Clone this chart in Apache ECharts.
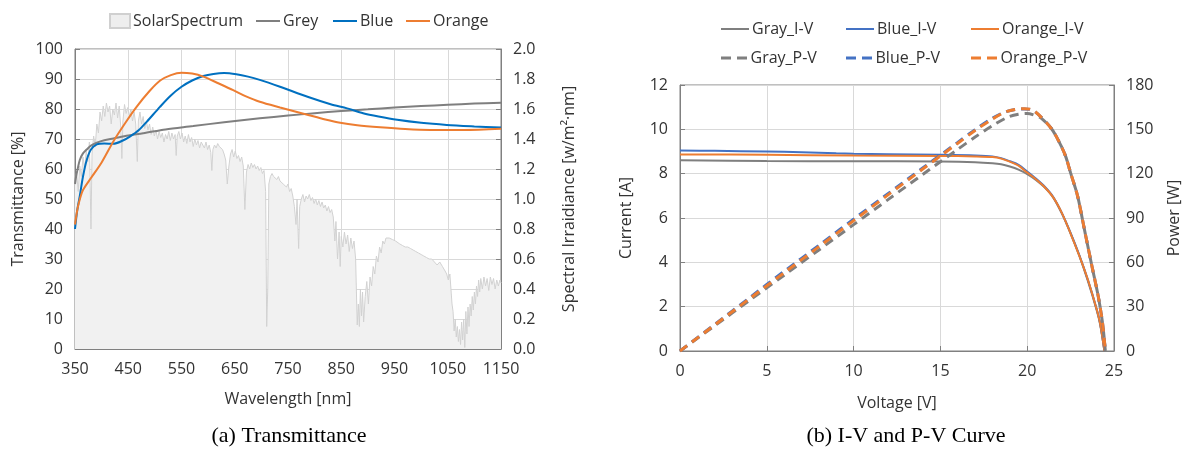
<!DOCTYPE html>
<html>
<head>
<meta charset="utf-8">
<script src="https://cdn.jsdelivr.net/npm/echarts@6/dist/echarts.min.js"></script>
<style>
  html, body { margin: 0; padding: 0; background: #fff; }
  #main { width: 1200px; height: 451px; }
</style>
</head>
<body>
<div id="main"></div>
<script>
// (a) transmittance, [wavelength nm, %]
let greyT = [[350,55],[352,57.5],[355,60],[359,63],[365,65.2],[372,66.5],[380,67.8],[391,68.8],[405,69.6],[422,70.2],
  [450,71.2],[478,71.9],[520,73.2],[572,74.3],[630,75.6],[697,76.9],[750,77.8],[800,78.6],[850,79.3],[900,79.9],
  [950,80.5],[1000,81],[1050,81.4],[1100,81.8],[1150,82.1]];
let blueT = [[350,40],[354,46],[359,51],[365,57.5],[372,63],[380,66.5],[391,68.2],[405,68.5],[422,68.4],[440,69.5],
  [453,70.8],[470,73],[485,75.8],[510,80.8],[530,84.5],[550,87.4],[570,89.5],[591,91],[610,91.7],[630,92],
  [653,91.6],[675,90.8],[697,89.7],[735,87.4],[788,84],[830,81.6],[861,80.2],[891,78.6],[920,77.5],[955,76.4],
  [1000,75.4],[1048,74.7],[1100,74.2],[1150,73.8]];
let orangeT = [[350,41.5],[355,47],[360,50.5],[365,53],[380,57],[400,62.2],[422,69.2],[445,75.5],[466,80.8],[490,86],
  [510,89.5],[530,91.3],[550,92.1],[570,91.8],[591,90.8],[620,88.5],[647,86.3],[670,84.3],[697,82.4],[735,80.5],
  [788,78],[820,76.5],[848,75.4],[880,74.6],[923,73.9],[970,73.3],[1017,73],[1080,73],[1150,73.4]];

// solar spectrum, [wavelength nm, W/m2/nm]
let solar = [[350,1.10],[353,1.18],[356,1.05],[359,1.22],[362,1.15],[365,1.28],[368,1.20],[371,1.32],[374,1.25],[377,1.38],
  [380,0.80],[382,1.30],[385,1.42],[388,1.35],[391,1.50],[394,1.44],[397,1.58],[400,1.52],[403,1.62],[406,1.55],
  [409,1.64],[412,1.58],[415,1.62],[418,1.50],[421,1.60],[424,1.56],[427,1.64],[430,1.54],[433,1.62],[436,1.48],
  [438,1.27],[440,1.52],[443,1.63],[446,1.57],[449,1.61],[452,1.55],[455,1.60],[458,1.52],[461,1.58],[464,1.50],
  [467,1.25],[469,1.52],[472,1.58],[475,1.50],[478,1.55],[481,1.47],[484,1.52],[487,1.46],[490,1.50],[493,1.43],
  [496,1.48],[499,1.42],[502,1.46],[505,1.40],[508,1.45],[511,1.41],[514,1.44],[517,1.38],[520,1.43],[523,1.40],
  [526,1.45],[529,1.39],[532,1.44],[535,1.40],[538,1.43],[540,1.29],[542,1.42],[545,1.45],[548,1.40],[551,1.44],
  [554,1.38],[557,1.42],[560,1.37],[563,1.43],[566,1.38],[569,1.41],[572,1.35],[575,1.40],[578,1.36],[581,1.39],
  [584,1.34],[587,1.38],[590,1.36],[593,1.34],[596,1.38],[599,1.33],[602,1.36],[605,1.31],[607,1.19],[609,1.33],
  [612,1.36],[615,1.34],[618,1.37],[621,1.35],[624,1.36],[627,1.33],[630,1.30],[633,1.26],[636,1.10],[639,1.22],
  [642,1.30],[645,1.33],[648,1.28],[651,1.32],[654,1.27],[657,1.29],[660,1.25],[663,1.28],[666,1.22],[669,0.93],
  [672,1.18],[675,1.23],[678,1.20],[681,1.24],[684,1.21],[687,1.23],[690,1.20],[693,1.22],[696,1.19],[699,1.21],
  [702,1.17],[705,1.19],[708,1.05],[710,0.15],[712,0.40],[714,1.10],[717,1.15],[720,1.17],[723,1.15],[726,1.16],
  [729,1.13],[732,1.15],[735,1.12],[738,1.13],[741,1.10],[744,1.11],[747,1.08],[750,1.10],[753,1.05],[756,1.07],
  [759,1.02],[762,0.95],[765,0.83],[767,1.00],[770,0.67],[772,0.95],[775,1.00],[778,1.03],[781,0.98],[784,1.02],
  [787,1.00],[790,1.03],[793,0.99],[796,1.01],[799,0.97],[802,1.00],[805,0.96],[808,0.99],[811,0.95],[814,0.98],
  [817,0.94],[820,0.96],[823,0.92],[826,0.95],[829,0.91],[832,0.93],[835,0.88],[838,0.72],[840,0.85],[843,0.60],
  [846,0.78],[848,0.55],[850,0.75],[853,0.68],[856,0.78],[859,0.70],[862,0.76],[865,0.65],[868,0.74],[871,0.67],
  [874,0.72],[877,0.60],[880,0.16],[882,0.30],[884,0.15],[886,0.40],[888,0.22],[890,0.38],[892,0.18],[895,0.35],
  [898,0.45],[901,0.30],[904,0.48],[907,0.42],[910,0.55],[913,0.50],[916,0.62],[919,0.58],[922,0.68],[925,0.64],
  [928,0.72],[931,0.70],[934,0.74],[937,0.75],[940,0.74],[943,0.73],[946,0.73],[949,0.72],[952,0.72],[955,0.71],
  [960,0.70],[965,0.69],[970,0.68],[975,0.68],[980,0.67],[985,0.66],[990,0.65],[995,0.64],[1000,0.63],[1005,0.62],
  [1010,0.61],[1015,0.60],[1020,0.60],[1025,0.58],[1030,0.56],[1035,0.58],[1040,0.55],[1045,0.52],[1048,0.50],[1051,0.46],
  [1054,0.50],[1056,0.40],[1058,0.30],[1060,0.25],[1062,0.12],[1064,0.20],[1066,0.08],[1068,0.15],[1070,0.05],[1072,0.13],
  [1074,0.03],[1076,0.18],[1078,0.06],[1080,0.20],[1082,0.01],[1084,0.25],[1086,0.10],[1088,0.28],[1090,0.15],[1092,0.30],
  [1094,0.22],[1096,0.35],[1098,0.26],[1100,0.38],[1102,0.30],[1104,0.42],[1106,0.35],[1108,0.46],[1110,0.38],[1112,0.47],
  [1115,0.40],[1118,0.48],[1121,0.42],[1124,0.47],[1127,0.39],[1130,0.48],[1133,0.43],[1136,0.47],[1139,0.40],[1142,0.46],
  [1145,0.42],[1148,0.46],[1150,0.44]];

// (b) I-V curves, [voltage V, current A]
let grayIV = [[0,8.6],[5,8.57],[10,8.56],[15,8.55],[17,8.52],[18,8.47],[18.5,8.42],[19,8.32],[19.5,8.18],[20,7.98],
  [20.5,7.72],[21,7.38],[21.5,6.92],[22,6.2],[22.5,5.3],[23,4.3],[23.5,3.15],[24,1.85],[24.2,1.2],[24.45,0]];
let blueIV = [[0,9.05],[2,9.03],[5,9.0],[7,8.97],[9,8.92],[10,8.9],[12,8.88],[15,8.85],[17,8.82],[18,8.78],
  [18.5,8.7],[19,8.56],[19.5,8.4],[20,8.1],[20.5,7.78],[21,7.42],[21.5,6.95],[22,6.22],[22.5,5.33],[23,4.33],
  [23.5,3.2],[24,1.9],[24.2,1.25],[24.45,0]];
let orangeIV = [[0,8.87],[5,8.85],[10,8.82],[15,8.8],[17,8.78],[18,8.75],[18.5,8.68],[19,8.54],[19.5,8.36],[20,8.05],
  [20.5,7.75],[21,7.4],[21.5,6.93],[22,6.22],[22.5,5.3],[23,4.3],[23.5,3.2],[24,1.88],[24.2,1.24],[24.45,0]];

// (b) P-V curves, [voltage V, power W]
let grayPV = [[0,0],[2,17.1],[4,34.2],[6,51.3],[8,68.4],[10,85.5],[12,102.6],[14,119.6],[16,136.5],[17,144.8],
  [18,152.5],[18.9,158.3],[19.5,160.2],[20,160.7],[20.4,159.6],[20.8,157.6],[21.4,150.4],[21.8,142.4],[22.2,132.2],
  [22.5,120.5],[22.9,105],[23.3,82],[23.7,59],[24.1,36.5],[24.35,18],[24.5,0]];
let bluePV = [[0,0],[2,18],[4,36],[6,53.9],[8,71.5],[10,89.2],[12,106.6],[14,124],[16,141.2],[17,149.8],
  [18,157.5],[18.7,161.6],[19.3,163.4],[19.85,163.8],[20.3,163],[20.8,158.3],[21.4,150.4],[21.8,142.4],[22.2,132.2],
  [22.5,120.5],[22.9,105],[23.3,82],[23.7,59],[24.1,36.5],[24.35,18],[24.5,0]];
let orangePV = [[0,0],[2,17.7],[4,35.4],[6,53],[8,70.6],[10,88.2],[12,105.8],[14,123.3],[16,140.6],[17,149.2],
  [18,157],[18.7,161.5],[19.3,163.4],[19.85,164],[20.3,163.2],[20.8,158.3],[21.4,150.4],[21.8,142.4],[22.2,132.2],
  [22.5,120.5],[22.9,105],[23.3,82],[23.7,59],[24.1,36.5],[24.35,18],[24.5,0]];

var FONT = 'Open Sans';
var TXT = '#333';
var GRIDC = '#d9d9d9';
var AXC = '#808080';
var DASH_ICON = 'path://M0,0H10V3H0Z M16,0H26V3H16Z';

function valAxis(o) {
  return Object.assign({
    type: 'value',
    nameLocation: 'middle',
    nameTextStyle: { fontFamily: FONT, fontSize: 16, color: TXT },
    axisLine: { show: true, lineStyle: { color: AXC } },
    axisTick: { show: true, inside: true, length: 5, lineStyle: { color: AXC } },
    axisLabel: { fontFamily: FONT, fontSize: 16, color: TXT, margin: 12 },
    splitLine: { show: true, lineStyle: { color: GRIDC } }
  }, o);
}

// one legend per entry so each sits where the reference has it
function leg(name, x, y, icon, w, h) {
  return {
    left: x, top: y, icon: icon, itemWidth: w, itemHeight: h,
    textStyle: { fontFamily: FONT, fontSize: 16, color: TXT, padding: [0, 0, 0, -2] },
    data: [name]
  };
}

var myChart = echarts.init(document.getElementById('main'));
var option = {
  animation: false,
  textStyle: { fontFamily: FONT },
  grid: [
    { left: 75, right: 699, top: 49, bottom: 102, show: true, borderColor: AXC, borderWidth: 1 },
    { left: 680, right: 86, top: 85, bottom: 100, show: true, borderColor: AXC, borderWidth: 1 }
  ],
  legend: [
    leg('SolarSpectrum', 104, 8, 'rect', 20, 14),
    leg('Grey', 251, 8, 'rect', 24, 2),
    leg('Blue', 328, 8, 'rect', 24, 2),
    leg('Orange', 401, 8, 'rect', 24, 2),
    leg('Gray_I-V', 716, 16, 'rect', 28, 2),
    leg('Blue_I-V', 841, 16, 'rect', 28, 2),
    leg('Orange_I-V', 966, 16, 'rect', 28, 2),
    leg('Gray_P-V', 716, 45, DASH_ICON, 27, 3),
    leg('Blue_P-V', 841, 45, DASH_ICON, 27, 3),
    leg('Orange_P-V', 966, 45, DASH_ICON, 27, 3)
  ],
  xAxis: [
    valAxis({ gridIndex: 0, min: 350, max: 1150, interval: 100, name: 'Wavelength [nm]', nameGap: 42,
      axisLabel: { fontFamily: FONT, fontSize: 16, color: TXT, margin: 12, formatter: function (v) { return String(v); } } }),
    valAxis({ gridIndex: 1, min: 0, max: 25, interval: 5, name: 'Voltage [V]', nameGap: 44 })
  ],
  yAxis: [
    valAxis({ gridIndex: 0, min: 0, max: 100, interval: 10, name: 'Transmittance [%]', nameGap: 49 }),
    valAxis({ gridIndex: 0, position: 'right', min: 0, max: 2, interval: 0.2, splitLine: { show: false },
      name: 'Spectral Irraidiance [w/m\u00b2\u00b7nm]', nameGap: 60, nameRotate: 90,
      axisLabel: { fontFamily: FONT, fontSize: 16, color: TXT, margin: 12, formatter: function (v) { return v.toFixed(1); } } }),
    valAxis({ gridIndex: 1, min: 0, max: 12, interval: 2, name: 'Current [A]', nameGap: 46 }),
    valAxis({ gridIndex: 1, position: 'right', min: 0, max: 180, interval: 30, splitLine: { show: false },
      name: 'Power [W]', nameGap: 52, nameRotate: 90 })
  ],
  series: [
    { name: 'SolarSpectrum', type: 'line', xAxisIndex: 0, yAxisIndex: 1, data: solar, symbol: 'none', z: 1,
      lineStyle: { color: '#d2d2d2', width: 1 }, areaStyle: { color: '#f1f1f1', opacity: 1 },
      itemStyle: { color: '#eeeeee', borderColor: '#d0d0d0', borderWidth: 1 } },
    { name: 'Grey', type: 'line', xAxisIndex: 0, yAxisIndex: 0, data: greyT, symbol: 'none', smooth: 0.3, z: 3,
      lineStyle: { color: '#7f7f7f', width: 2 }, itemStyle: { color: '#7f7f7f' } },
    { name: 'Blue', type: 'line', xAxisIndex: 0, yAxisIndex: 0, data: blueT, symbol: 'none', smooth: 0.3, z: 3,
      lineStyle: { color: '#0070c0', width: 2 }, itemStyle: { color: '#0070c0' } },
    { name: 'Orange', type: 'line', xAxisIndex: 0, yAxisIndex: 0, data: orangeT, symbol: 'none', smooth: 0.3, z: 3,
      lineStyle: { color: '#ed7d31', width: 2 }, itemStyle: { color: '#ed7d31' } },

    { name: 'Gray_I-V', type: 'line', xAxisIndex: 1, yAxisIndex: 2, data: grayIV, symbol: 'none', smooth: 0.3,
      lineStyle: { color: '#7f7f7f', width: 2 }, itemStyle: { color: '#7f7f7f' } },
    { name: 'Blue_I-V', type: 'line', xAxisIndex: 1, yAxisIndex: 2, data: blueIV, symbol: 'none', smooth: 0.3,
      lineStyle: { color: '#4472c4', width: 2 }, itemStyle: { color: '#4472c4' } },
    { name: 'Orange_I-V', type: 'line', xAxisIndex: 1, yAxisIndex: 2, data: orangeIV, symbol: 'none', smooth: 0.3,
      lineStyle: { color: '#ed7d31', width: 2 }, itemStyle: { color: '#ed7d31' } },
    { name: 'Gray_P-V', type: 'line', xAxisIndex: 1, yAxisIndex: 3, data: grayPV, symbol: 'none', smooth: 0.3,
      lineStyle: { color: '#7f7f7f', width: 3, type: [9, 6] }, itemStyle: { color: '#7f7f7f' } },
    { name: 'Blue_P-V', type: 'line', xAxisIndex: 1, yAxisIndex: 3, data: bluePV, symbol: 'none', smooth: 0.3,
      lineStyle: { color: '#4472c4', width: 3, type: [9, 6] }, itemStyle: { color: '#4472c4' } },
    { name: 'Orange_P-V', type: 'line', xAxisIndex: 1, yAxisIndex: 3, data: orangePV, symbol: 'none', smooth: 0.3,
      lineStyle: { color: '#ed7d31', width: 3, type: [9, 6] }, itemStyle: { color: '#ed7d31' } }
  ],
  graphic: [
    { type: 'text', x: 289, y: 436, style: { text: '(a) Transmittance', font: '22px "Liberation Serif"', fill: '#000', textAlign: 'center', textVerticalAlign: 'middle' } },
    { type: 'text', x: 906, y: 436, style: { text: '(b) I-V and P-V Curve', font: '22px "Liberation Serif"', fill: '#000', textAlign: 'center', textVerticalAlign: 'middle' } }
  ]
};
myChart.setOption(option);
</script>
</body>
</html>
